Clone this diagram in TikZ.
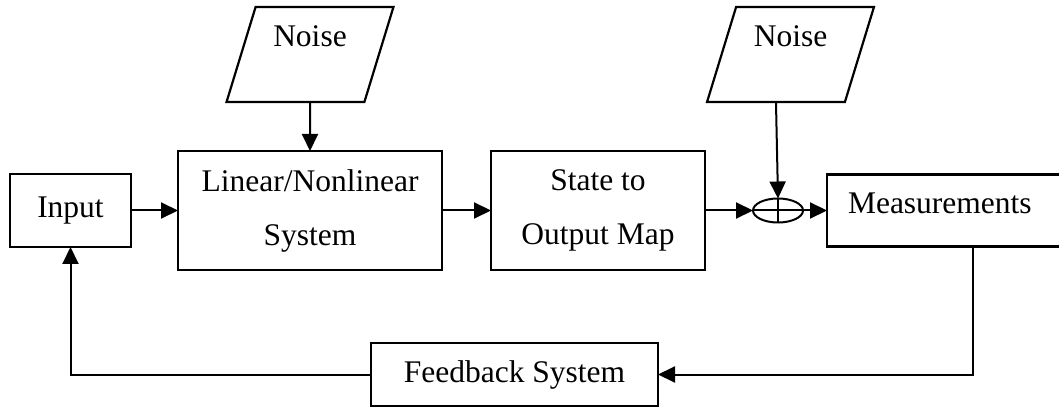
\documentclass[tikz,border=0pt]{standalone}
\usepackage{fontspec}
\setmainfont{Liberation Serif}
\usetikzlibrary{positioning, shapes.geometric, arrows.meta}

\begin{document}
\begin{tikzpicture}[
    x=1pt, y=1pt,
    node distance=48pt,
    box/.style={draw, rectangle, line width=2.2pt, align=center, inner sep=0pt, outer sep=0pt, font=\fontsize{31.5pt}{54pt}\selectfont},
    noisebox/.style={draw, trapezium, trapezium left angle=71, trapezium right angle=109, trapezium stretches=true, line width=2.2pt, minimum width=167pt, minimum height=95pt, text height=21pt, text depth=36pt, inner sep=0pt, outer sep=0pt, font=\fontsize{31.5pt}{38pt}\selectfont},
    arrow/.style={-{Triangle[length=17pt, width=16pt]}, line width=2pt}
]
\useasboundingbox (0,0) rectangle (1059,407);
\clip (0,0) rectangle (1059,407);

% Main pipeline horizontally
\node[box, minimum width=121pt, minimum height=73pt] (input) at (70.5,196.5) {Input};
\node[box, minimum width=264pt, minimum height=119pt, right=47pt of input] (system) {Linear/Nonlinear\\System};
\node[box, minimum width=214pt, minimum height=119pt, right=49pt of system] (map) {State to\\Output Map};
\node[draw, ellipse, line width=2pt, minimum width=50pt, minimum height=24pt, inner sep=0pt, outer sep=0pt, right=48pt of map] (sum) {};

% Measurements box, open where it leaves the page
\node[box, draw=none, minimum width=292pt, minimum height=72pt, text width=250pt, align=left, text height=21pt, text depth=15pt, right=24pt of sum] (meas) {Measurements};
\draw[line width=2.2pt] (meas.north east) -- (meas.north west) -- (meas.south west) -- (meas.south east);

% Noise inputs
\node[noisebox, above=49pt of system] (noise1) {Noise};
\node[noisebox] (noise2) at (790.5,352.5) {Noise};

% Feedback box
\node[box, minimum width=287pt, minimum height=63pt] (fb) at (514.5,32.5) {Feedback System};

% Horizontal arrows
\draw[arrow] (input) -- (system);
\draw[arrow] (system) -- (map);
\draw[arrow] (map) -- (sum);
\draw[arrow] (sum) -- (meas);

% Noise arrows
\draw[arrow] (noise1) -- (system);
\draw[arrow] (noise2.bottom side) -- (sum.north);

% Summing cross
\draw[line width=2pt] (sum.north) -- (sum.south);
\draw[line width=2pt] (sum.west) -- (sum.east);

% Feedback loop
\draw[arrow] (meas.south) |- (fb.east);
\draw[arrow] (fb.west) -| (input.south);

\end{tikzpicture}
\end{document}
